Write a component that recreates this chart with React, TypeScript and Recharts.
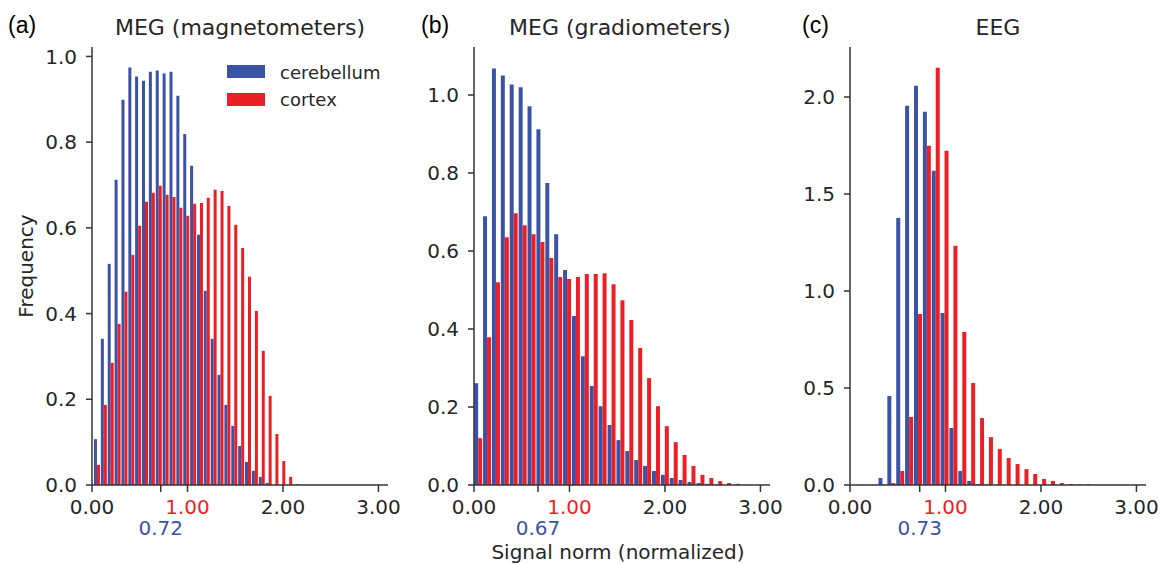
import React from 'react';
import { BarChart, Bar, XAxis, YAxis } from 'recharts';

const BLUE = '#3b53a4';
const RED = '#ec1f26';
const INK = '#262626';
const AXIS = '#333333';
const FONT = '"DejaVu Sans", sans-serif';

// bin centres (signal norm) and frequencies
const binsMag = [
  0.049, 0.121, 0.193, 0.265, 0.337, 0.409, 0.480, 0.552, 0.624, 0.696,
  0.768, 0.840, 0.912, 0.984, 1.056, 1.128, 1.199, 1.271, 1.343, 1.415,
  1.487, 1.559, 1.631, 1.703, 1.775, 1.847, 1.918, 1.990, 2.062, 2.134,
];
const cerebMag = [
  0.107, 0.341, 0.516, 0.712, 0.899, 0.974, 0.953, 0.943, 0.964, 0.967,
  0.960, 0.964, 0.908, 0.819, 0.745, 0.584, 0.453, 0.341, 0.257, 0.187,
  0.138, 0.091, 0.054, 0.033, 0.019, 0.005, 0, 0, 0, 0,
];
const cortexMag = [
  0.047, 0.187, 0.285, 0.376, 0.451, 0.537, 0.605, 0.661, 0.682, 0.698,
  0.677, 0.672, 0.647, 0.628, 0.656, 0.658, 0.670, 0.689, 0.686, 0.651,
  0.607, 0.553, 0.486, 0.406, 0.313, 0.208, 0.119, 0.056, 0.019, 0.002,
];

const binsGrad = [
  0.039, 0.132, 0.225, 0.318, 0.411, 0.505, 0.598, 0.691, 0.784, 0.877,
  0.970, 1.063, 1.156, 1.249, 1.342, 1.436, 1.529, 1.622, 1.715, 1.808,
  1.901, 1.994, 2.087, 2.180, 2.273, 2.367, 2.460, 2.553, 2.646, 2.739,
];
const cerebGrad = [
  0.261, 0.689, 1.068, 1.050, 1.027, 1.020, 0.971, 0.912, 0.774, 0.643,
  0.551, 0.433, 0.330, 0.254, 0.202, 0.154, 0.115, 0.087, 0.064, 0.049,
  0.036, 0.026, 0.018, 0.013, 0.008, 0.005, 0.003, 0.001, 0, 0,
];
const cortexGrad = [
  0.120, 0.379, 0.520, 0.635, 0.697, 0.666, 0.643, 0.623, 0.582, 0.533,
  0.528, 0.533, 0.541, 0.541, 0.543, 0.515, 0.474, 0.423, 0.351, 0.274,
  0.202, 0.151, 0.110, 0.077, 0.049, 0.026, 0.018, 0.010, 0.005, 0.003,
];

const binsEeg = [
  0.335, 0.428, 0.521, 0.614, 0.707, 0.800, 0.893, 0.985, 1.078, 1.171,
  1.264, 1.357, 1.450, 1.543, 1.636, 1.729, 1.822, 1.914, 2.007, 2.100,
  2.193, 2.286, 2.379, 2.472,
];
const cerebEeg = [
  0.036, 0.459, 1.377, 1.955, 2.058, 1.924, 1.620, 0.887, 0.294, 0.072,
  0.021, 0.005, 0.003, 0, 0, 0, 0, 0, 0, 0,
  0, 0, 0, 0,
];
const cortexEeg = [
  0, 0.010, 0.072, 0.351, 0.882, 1.749, 2.151, 1.723, 1.233, 0.789,
  0.526, 0.345, 0.247, 0.186, 0.139, 0.108, 0.082, 0.057, 0.031, 0.021,
  0.010, 0.005, 0.003, 0.003,
];

const xTicksBase = [0, 1, 2, 3];
const yTicksMeg = [0, 0.2, 0.4, 0.6, 0.8, 1.0];
const yTicksEeg = [0, 0.5, 1.0, 1.5, 2.0];

const PLOT_W = 296;
const PLOT_H = 438;
const Y_W = 70;
const TOP = 10;
const X_H = 60;
const RIGHT = 20;

function XTick(props: any) {
  const { x, y, payload, mean } = props;
  const v = payload.value;
  const isMean = Math.abs(v - mean) < 1e-6;
  const fill = isMean ? BLUE : v === 1 ? RED : INK;
  return (
    <text x={x} y={y} dy={isMean ? 43 : 22} textAnchor="middle" fill={fill} fontSize={20} fontFamily={FONT}>
      {v.toFixed(2)}
    </text>
  );
}

interface PanelProps {
  left: number;
  bins: number[];
  cereb: number[];
  cortex: number[];
  yMax: number;
  yTicks: number[];
  mean: number;
}

function Panel({ left, bins, cereb, cortex, yMax, yTicks, mean }: PanelProps) {
  const data = bins.map((x, i) => ({ x, cerebellum: cereb[i], cortex: cortex[i] }));
  const xTicks = [...xTicksBase, mean].sort((a, b) => a - b);
  return (
    <div style={{ position: 'absolute', left: left - Y_W, top: 47 - TOP }}>
      <BarChart
        width={Y_W + PLOT_W + RIGHT}
        height={TOP + PLOT_H + X_H}
        data={data}
        margin={{ top: TOP, right: RIGHT, left: 0, bottom: 0 }}
        barGap={0}
        barCategoryGap="10%"
      >
        <XAxis
          dataKey="x"
          type="number"
          domain={[0, 3.1]}
          ticks={xTicks}
          interval={0}
          height={X_H}
          tickSize={7}
          tickMargin={0}
          axisLine={{ stroke: AXIS, strokeWidth: 1.5 }}
          tickLine={{ stroke: AXIS, strokeWidth: 1.5 }}
          tick={(p: any) => <XTick {...p} mean={mean} />}
        />
        <YAxis
          type="number"
          domain={[0, yMax]}
          ticks={yTicks}
          interval={0}
          width={Y_W}
          tickSize={6}
          tickMargin={9}
          axisLine={{ stroke: AXIS, strokeWidth: 1.5 }}
          tickLine={{ stroke: AXIS, strokeWidth: 1.5 }}
          tick={{ fontSize: 20, fill: INK, fontFamily: FONT }}
          tickFormatter={(v: number) => v.toFixed(1)}
        />
        <Bar dataKey="cerebellum" fill={BLUE} isAnimationActive={false} />
        <Bar dataKey="cortex" fill={RED} isAnimationActive={false} />
      </BarChart>
    </div>
  );
}

export default function App() {
  return (
    <div style={{ position: 'absolute', left: 0, top: 0, width: 1163, height: 564, background: '#fff', overflow: 'hidden' }}>
      <Panel left={92} bins={binsMag} cereb={cerebMag} cortex={cortexMag} yMax={1.022} yTicks={yTicksMeg} mean={0.72} />
      <Panel left={474} bins={binsGrad} cereb={cerebGrad} cortex={cortexGrad} yMax={1.123} yTicks={yTicksMeg} mean={0.67} />
      <Panel left={850} bins={binsEeg} cereb={cerebEeg} cortex={cortexEeg} yMax={2.258} yTicks={yTicksEeg} mean={0.73} />

      <svg width={1163} height={564} style={{ position: 'absolute', left: 0, top: 0, pointerEvents: 'none' }}>
        <g fontFamily='"Liberation Sans", Arial, sans-serif' fontSize={23} fill="#000">
          <text x={8} y={33}>(a)</text>
          <text x={421} y={33}>(b)</text>
          <text x={802} y={33}>(c)</text>
        </g>
        <g fontFamily={FONT} fontSize={22} fill={INK} textAnchor="middle">
          <text x={240} y={35}>MEG (magnetometers)</text>
          <text x={620} y={35}>MEG (gradiometers)</text>
          <text x={998} y={35}>EEG</text>
        </g>
        <text x={0} y={0} transform="translate(33,266) rotate(-90)" textAnchor="middle" fontFamily={FONT} fontSize={20} fill={INK}>
          Frequency
        </text>
        <text x={618} y={559} textAnchor="middle" fontFamily={FONT} fontSize={20} fill={INK}>
          Signal norm (normalized)
        </text>
        <rect x={227} y={65} width={38} height={13} fill={BLUE} />
        <rect x={227} y={93} width={38} height={13} fill={RED} />
        <g fontFamily={FONT} fontSize={18} fill={INK}>
          <text x={280} y={79}>cerebellum</text>
          <text x={280} y={106}>cortex</text>
        </g>
      </svg>
    </div>
  );
}
